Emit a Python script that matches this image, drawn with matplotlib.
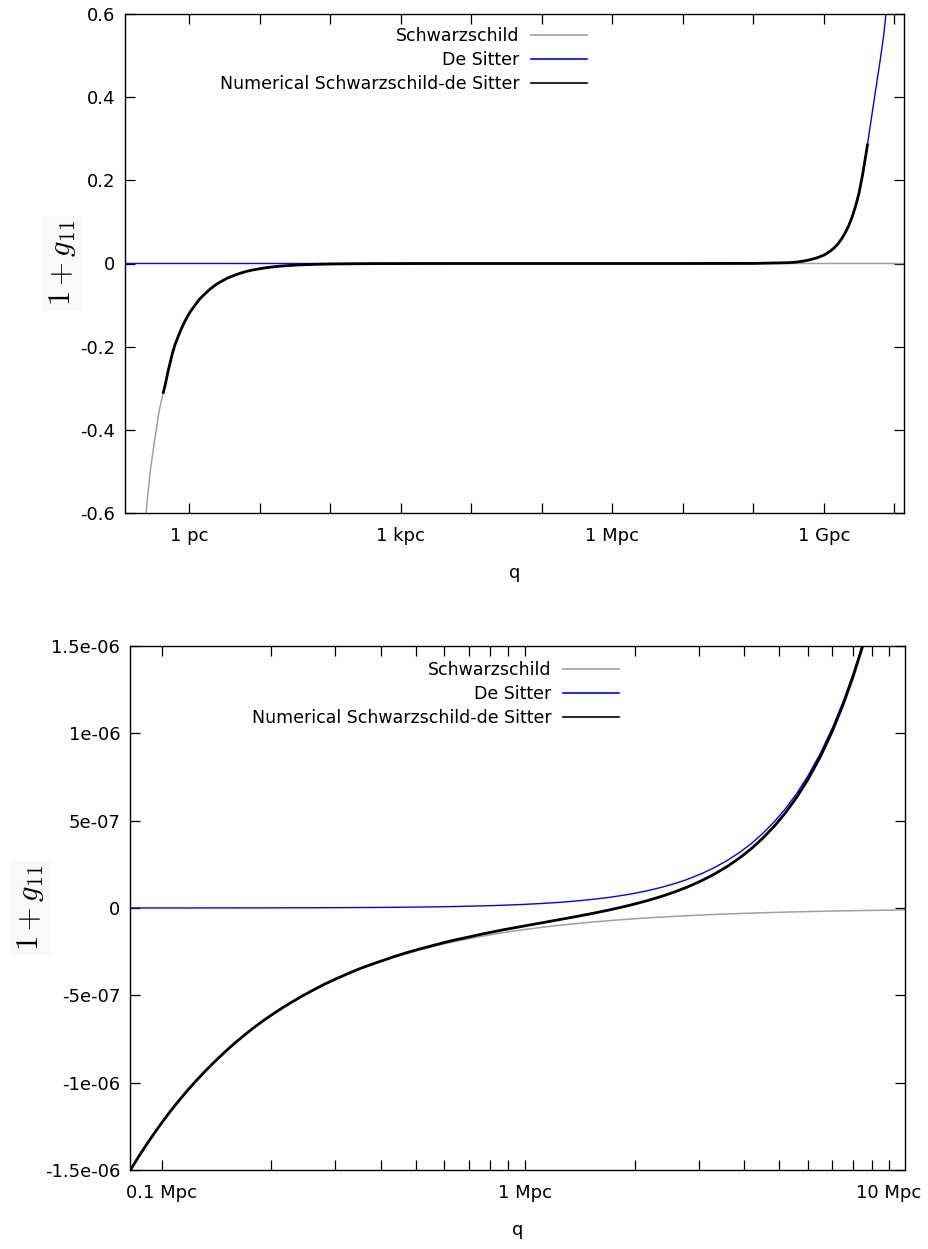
import matplotlib
matplotlib.use('Agg')
import matplotlib.pyplot as plt
import numpy as np
from matplotlib.ticker import FixedLocator, FixedFormatter

file_out = 'out.png'

# ---------------- top panel (q in pc) ----------------
top_q_sch = [0.235, 0.25, 0.265, 0.28, 0.30, 0.32, 0.345, 0.37, 0.40, 0.43, 0.46, 0.5, 0.54, 0.58,
             0.63, 0.7, 0.77, 0.85, 0.92, 1.0, 1.12, 1.25, 1.4, 1.6, 1.8, 2.0, 2.3, 2.6, 3.0, 3.5,
             4.0, 4.6, 5.5, 6.5, 7.7, 9.0, 11.0, 13.0, 16.0, 20.0, 27.0, 35.0, 45.0, 60.0, 80.0,
             120.0, 400.0, 2e3, 1e5, 1e8, 1.4e10]
top_sch = [-0.65, -0.58, -0.54, -0.50, -0.465, -0.43, -0.395, -0.36, -0.333, -0.31, -0.29, -0.26,
           -0.237, -0.215, -0.195, -0.175, -0.158, -0.142, -0.131, -0.12, -0.108, -0.097, -0.086,
           -0.076, -0.068, -0.061, -0.053, -0.047, -0.041, -0.035, -0.031, -0.027, -0.0225,
           -0.019, -0.016, -0.014, -0.0114, -0.0096, -0.0078, -0.0062, -0.0047, -0.0036,
           -0.0028, -0.0021, -0.0016, -0.001, -3e-4, -6e-5, -1.2e-6, 0.0, 0.0]

top_q_ds = [0.12, 1e3, 1e6, 1e7, 1e8, 3.16e8, 3.98e8, 5.01e8, 6.31e8, 7.94e8, 1e9, 1.12e9,
            1.26e9, 1.41e9, 1.58e9, 1.78e9, 2.0e9, 2.24e9, 2.51e9, 2.82e9, 3.16e9, 3.55e9,
            3.98e9, 4.47e9, 5.01e9, 5.62e9, 6.31e9, 7.08e9, 7.59e9]
top_ds = [0.0, 0.0, 2e-8, 2e-6, 2e-4, 0.002, 0.0032, 0.0055, 0.0088, 0.0135, 0.020, 0.025,
          0.031, 0.038, 0.047, 0.059, 0.073, 0.090, 0.111, 0.138, 0.170, 0.214, 0.265, 0.322,
          0.378, 0.434, 0.49, 0.55, 0.60]

top_q_num = [0.43, 0.46, 0.5, 0.54, 0.58, 0.63, 0.7, 0.77, 0.85, 0.92, 1.0, 1.12, 1.25, 1.4, 1.6,
             1.8, 2.0, 2.3, 2.6, 3.0, 3.5, 4.0, 4.6, 5.5, 6.5, 7.7, 9.0, 11.0, 13.0, 16.0, 20.0,
             27.0, 35.0, 45.0, 60.0, 80.0, 120.0, 400.0, 2e3, 1e5, 1e7, 1e8, 3.16e8, 3.98e8,
             5.01e8, 6.31e8, 7.94e8, 1e9, 1.12e9, 1.26e9, 1.41e9, 1.58e9, 1.78e9, 2.0e9, 2.24e9,
             2.51e9, 2.82e9, 3.16e9, 3.55e9, 3.98e9, 4.15e9]
top_num = [-0.31, -0.29, -0.26, -0.237, -0.215, -0.195, -0.175, -0.158, -0.142, -0.131, -0.12,
           -0.108, -0.097, -0.086, -0.076, -0.068, -0.061, -0.053, -0.047, -0.041, -0.035, -0.031,
           -0.027, -0.0225, -0.019, -0.016, -0.014, -0.0114, -0.0096, -0.0078, -0.0062, -0.0047,
           -0.0036, -0.0028, -0.0021, -0.0016, -0.001, -3e-4, -6e-5, -1.2e-6, 2e-6, 2e-4, 0.002,
           0.0032, 0.0055, 0.0088, 0.0135, 0.020, 0.025, 0.031, 0.038, 0.047, 0.059, 0.073,
           0.090, 0.111, 0.138, 0.170, 0.214, 0.265, 0.285]

top_xticks = [1e0, 1e1, 1e2, 1e3, 1e4, 1e5, 1e6, 1e7, 1e8, 1e9, 1e10]
top_xlabels = ['1 pc', '', '', '1 kpc', '', '', '1 Mpc', '', '', '1 Gpc', '']
top_yticks = [-0.6, -0.4, -0.2, 0.0, 0.2, 0.4, 0.6]
top_ylabels = ['-0.6', '-0.4', '-0.2', '0', '0.2', '0.4', '0.6']

# ---------------- bottom panel (q in Mpc, 1+g11 in units of 1e-6) ----------------
bot_q = [0.0818, 0.086, 0.09, 0.095, 0.1, 0.105, 0.11, 0.117, 0.125, 0.132, 0.14, 0.15, 0.16,
         0.17, 0.18, 0.19, 0.2, 0.215, 0.23, 0.245, 0.26, 0.28, 0.3, 0.325, 0.35, 0.375, 0.4,
         0.435, 0.47, 0.51, 0.55, 0.6, 0.65, 0.7, 0.75, 0.81, 0.87, 0.93, 1.0, 1.1, 1.2, 1.3,
         1.4, 1.55, 1.7, 1.85, 2.0, 2.2, 2.4, 2.6, 2.8, 3.05, 3.3, 3.6, 3.9, 4.2, 4.5, 4.85,
         5.2, 5.6, 6.0, 6.5, 7.0, 7.5, 8.0, 8.5, 9.0, 10.0, 11.1]
bot_sch = [-1.504, -1.430, -1.367, -1.295, -1.230, -1.171, -1.118, -1.051, -0.984, -0.932, -0.879,
           -0.820, -0.769, -0.724, -0.683, -0.647, -0.615, -0.572, -0.535, -0.502, -0.473,
           -0.439, -0.410, -0.378, -0.351, -0.328, -0.308, -0.283, -0.262, -0.241, -0.224,
           -0.205, -0.189, -0.176, -0.164, -0.152, -0.141, -0.132, -0.123, -0.112, -0.1025,
           -0.0946, -0.0879, -0.0794, -0.0724, -0.0665, -0.0615, -0.0559, -0.0513, -0.0473,
           -0.0439, -0.0403, -0.0373, -0.0342, -0.0315, -0.0293, -0.0273, -0.0254, -0.0237,
           -0.0220, -0.0205, -0.0189, -0.0176, -0.0164, -0.0154, -0.0145, -0.0137, -0.0123,
           -0.0111]
bot_ds = [0.00014, 0.00016, 0.00017, 0.00019, 0.00021, 0.00023, 0.00025, 0.00029, 0.00033,
          0.00037, 0.00041, 0.00047, 0.00054, 0.00061, 0.00068, 0.00076, 0.00084, 0.00097,
          0.00111, 0.00126, 0.00142, 0.00165, 0.00189, 0.00222, 0.00257, 0.00295, 0.00336,
          0.00397, 0.00464, 0.00546, 0.00635, 0.00756, 0.00887, 0.01029, 0.01181, 0.01378,
          0.01589, 0.01816, 0.0210, 0.0254, 0.0302, 0.0355, 0.0412, 0.0505, 0.0607, 0.0719,
          0.0840, 0.1016, 0.1210, 0.1420, 0.1646, 0.1954, 0.2287, 0.2722, 0.3194, 0.3704,
          0.4253, 0.4940, 0.5678, 0.6586, 0.7560, 0.8873, 1.029, 1.181, 1.344, 1.517, 1.701,
          2.100, 2.587]
bot_num = [-1.504, -1.430, -1.367, -1.295, -1.230, -1.171, -1.118, -1.051, -0.984, -0.932, -0.879,
           -0.820, -0.768, -0.723, -0.682, -0.646, -0.614, -0.571, -0.534, -0.501, -0.472,
           -0.437, -0.408, -0.376, -0.348, -0.325, -0.305, -0.279, -0.257, -0.236, -0.218,
           -0.197, -0.180, -0.166, -0.152, -0.138, -0.125, -0.114, -0.102, -0.0866, -0.0723,
           -0.0591, -0.0467, -0.0289, -0.0117, 0.0054, 0.0225, 0.0457, 0.0697, 0.0947, 0.1207,
           0.1551, 0.1914, 0.2380, 0.2879, 0.3411, 0.3980, 0.4686, 0.5441, 0.6366, 0.7355,
           0.8684, 1.0114, 1.1646, 1.3286, 1.5025, 1.687, 2.088, 2.576]

bot_xticks = [0.1, 0.2, 0.3, 0.4, 0.5, 0.6, 0.7, 0.8, 0.9, 1, 2, 3, 4, 5, 6, 7, 8, 9, 10]
bot_xlabels = ['0.1 Mpc'] + [''] * 8 + ['1 Mpc'] + [''] * 8 + ['10 Mpc']
bot_yticks = [-1.5e-6, -1e-6, -5e-7, 0.0, 5e-7, 1e-6, 1.5e-6]
bot_ylabels = ['-1.5e-06', '-1e-06', '-5e-07', '0', '5e-07', '1e-06', '1.5e-06']

labels = ['Schwarzschild', 'De Sitter', 'Numerical Schwarzschild-de Sitter']

plt.rcParams['font.family'] = ['DejaVu Sans']
plt.rcParams['mathtext.fontset'] = 'cm'

W, H = 929, 1249
fig = plt.figure(figsize=(W / 100, H / 100), dpi=100)


def px_axes(l, t, r, b):
    return fig.add_axes([l / W, 1 - b / H, (r - l) / W, (b - t) / H])


def style(ax, xt, xl, yt, yl):
    ax.xaxis.set_major_locator(FixedLocator(xt))
    ax.xaxis.set_major_formatter(FixedFormatter(xl))
    ax.xaxis.set_minor_locator(FixedLocator([]))
    ax.yaxis.set_major_locator(FixedLocator(yt))
    ax.yaxis.set_major_formatter(FixedFormatter(yl))
    ax.tick_params(direction='in', length=7, width=0.9, top=True, right=True,
                   labelsize=13, colors='black')
    ax.tick_params(axis='x', pad=10)
    ax.tick_params(axis='y', pad=7)
    for s in ax.spines.values():
        s.set_linewidth(1.0)
    ax.set_xlabel('q', fontsize=13, labelpad=14)


def add_legend(ax, x_anchor, y_anchor):
    leg = ax.legend(loc='upper right', bbox_to_anchor=(x_anchor, y_anchor), frameon=False,
                    markerfirst=False, fontsize=12.5, handlelength=3.2, handletextpad=0.7,
                    labelspacing=0.35, borderpad=0, borderaxespad=0)
    for h in leg.get_lines():
        h.set_linewidth(1.2)


ylab_box = dict(facecolor='#f9f9f9', edgecolor='none', pad=3)

# top panel
ax1 = px_axes(125, 14, 904, 513)
ax1.set_xscale('log')
ax1.plot(top_q_sch, top_sch, color='#a0a0a0', lw=1.1, label=labels[0])
ax1.plot(top_q_ds, top_ds, color='#0000ff', lw=1.0, label=labels[1])
ax1.plot(top_q_num, top_num, color='black', lw=2.0, label=labels[2])
ax1.set_xlim(0.123, 1.37e10)
ax1.set_ylim(-0.6, 0.6)
style(ax1, top_xticks, top_xlabels, top_yticks, top_ylabels)
ax1.set_ylabel('$1 + g_{11}$', fontsize=22, va='center', bbox=ylab_box)
ax1.yaxis.set_label_coords(-0.08, 0.5)
add_legend(ax1, (587 - 125) / 779, 0.974)

# bottom panel
ax2 = px_axes(130, 646, 905, 1170)
ax2.set_xscale('log')
ax2.plot(bot_q, np.array(bot_sch) * 1e-6, color='#a0a0a0', lw=1.1, label=labels[0])
ax2.plot(bot_q, np.array(bot_ds) * 1e-6, color='#0000ff', lw=1.0, label=labels[1])
ax2.plot(bot_q, np.array(bot_num) * 1e-6, color='black', lw=2.0, label=labels[2])
ax2.set_xlim(0.0818, 11.1)
ax2.set_ylim(-1.5e-6, 1.5e-6)
style(ax2, bot_xticks, bot_xlabels, bot_yticks, bot_ylabels)
ax2.set_ylabel('$1 + g_{11}$', fontsize=22, va='center', bbox=ylab_box)
ax2.yaxis.set_label_coords(-0.128, 0.5)
add_legend(ax2, (619 - 130) / 775, 0.972)

fig.savefig(file_out, dpi=100)
